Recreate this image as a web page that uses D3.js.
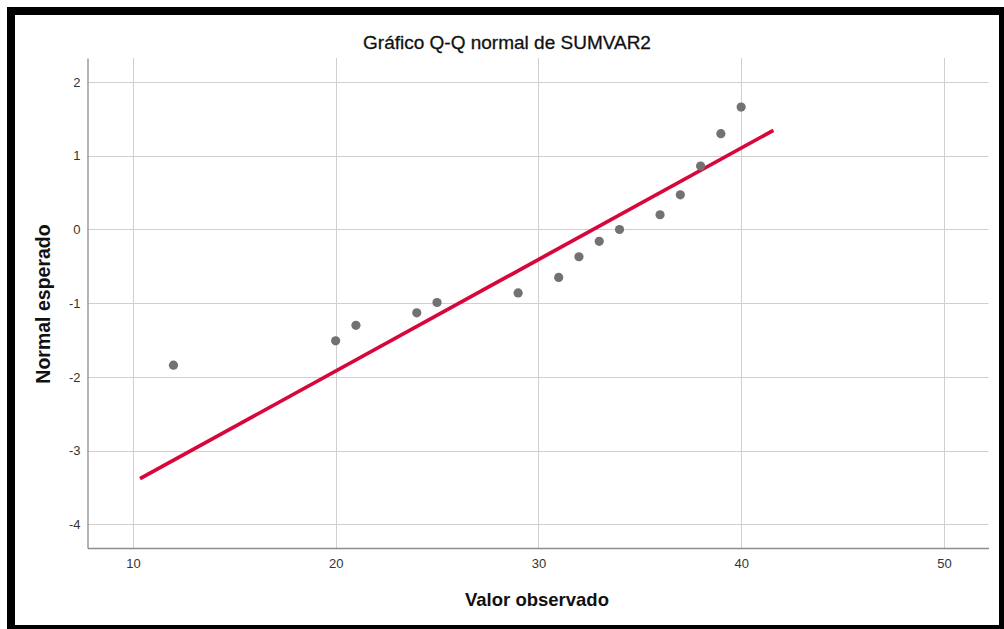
<!DOCTYPE html>
<html>
<head>
<meta charset="utf-8">
<script src="https://cdn.jsdelivr.net/npm/d3@7"></script>
<style>
  html, body { margin: 0; padding: 0; background: #fff; }
  svg { display: block; font-family: "Liberation Sans", Arial, sans-serif; }
</style>
</head>
<body>
<div id="chart"></div>
<script>
const observed = [12, 20, 21, 24, 25, 29, 31, 32, 33, 34, 36, 37, 38, 39, 40];
const expected = [-1.84, -1.51, -1.30, -1.13, -0.99, -0.86, -0.65, -0.37, -0.16, 0.00, 0.20, 0.47, 0.86, 1.30, 1.66];

// Reference line end points
const lineX = [10.35, 41.59];
const lineY = [-3.38, 1.345];

const xTicks = [10, 20, 30, 40, 50];
const yTicks = [2, 1, 0, -1, -2, -3, -4];

const W = 1004, H = 629;
const plot = { left: 87.5, right: 988.5, top: 58, bottom: 548 };
const FONT = '"Liberation Sans", Arial, sans-serif';

const svg = d3.select('#chart').append('svg')
  .attr('width', W)
  .attr('height', H);

svg.append('rect')
  .attr('x', 0).attr('y', 0)
  .attr('width', W).attr('height', H)
  .attr('fill', '#fff');

const x = d3.scaleLinear().domain([7.76, 52.2]).range([plot.left, plot.right]);
const y = d3.scaleLinear().domain([-4.32, 2.326]).range([plot.bottom, plot.top]);

// Grid lines
svg.append('g')
  .selectAll('line')
  .data(yTicks)
  .enter().append('line')
  .attr('x1', plot.left).attr('x2', plot.right)
  .attr('y1', d => Math.round(y(d)) + 0.5)
  .attr('y2', d => Math.round(y(d)) + 0.5)
  .attr('stroke', '#cfcfcf')
  .attr('stroke-width', 1);

svg.append('g')
  .selectAll('line')
  .data(xTicks)
  .enter().append('line')
  .attr('x1', d => Math.round(x(d)) + 0.5)
  .attr('x2', d => Math.round(x(d)) + 0.5)
  .attr('y1', plot.top).attr('y2', plot.bottom)
  .attr('stroke', '#cfcfcf')
  .attr('stroke-width', 1);

// Axes (no tick marks, just lines and labels)
const xAxis = svg.append('g')
  .attr('transform', `translate(0,${plot.bottom})`)
  .call(d3.axisBottom(x).tickValues(xTicks).tickSize(0).tickPadding(11)
    .tickFormat(d => String(d)));
xAxis.select('.domain').attr('stroke', '#8c8c8c').attr('stroke-width', 1.3);
xAxis.selectAll('text').attr('font-size', 13).attr('fill', '#333')
  .attr('font-family', FONT);

const yAxis = svg.append('g')
  .attr('transform', `translate(${plot.left},0)`)
  .call(d3.axisLeft(y).tickValues(yTicks).tickSize(0).tickPadding(7)
    .tickFormat(d => String(d)));
yAxis.select('.domain').attr('stroke', '#8c8c8c').attr('stroke-width', 1.3);
yAxis.selectAll('text').attr('font-size', 13).attr('fill', '#333')
  .attr('font-family', FONT);

// Reference line
svg.append('line')
  .attr('x1', x(lineX[0])).attr('y1', y(lineY[0]))
  .attr('x2', x(lineX[1])).attr('y2', y(lineY[1]))
  .attr('stroke', '#d8063b')
  .attr('stroke-width', 3.7)
  .attr('stroke-linecap', 'butt');

// Points
svg.append('g')
  .selectAll('circle')
  .data(observed.map((v, i) => ({ v, q: expected[i] })))
  .enter().append('circle')
  .attr('cx', d => x(d.v))
  .attr('cy', d => y(d.q))
  .attr('r', 4.6)
  .attr('fill', '#727272');

// Title and axis labels
svg.append('text')
  .attr('x', 507).attr('y', 49)
  .attr('text-anchor', 'middle')
  .attr('font-size', 19)
  .attr('fill', '#111')
  .style('stroke', '#111')
  .style('stroke-width', 0.3)
  .text('Gráfico Q-Q normal de SUMVAR2');

svg.append('text')
  .attr('x', 537).attr('y', 606)
  .attr('text-anchor', 'middle')
  .attr('font-size', 18.5)
  .attr('font-weight', 'bold')
  .attr('fill', '#111')
  .text('Valor observado');

svg.append('text')
  .attr('transform', `translate(50,304) rotate(-90)`)
  .attr('text-anchor', 'middle')
  .attr('font-size', 19.5)
  .attr('font-weight', 'bold')
  .attr('fill', '#111')
  .text('Normal esperado');

// Black frame
svg.append('rect')
  .attr('x', 11).attr('y', 11)
  .attr('width', 992).attr('height', 618)
  .attr('fill', 'none')
  .attr('stroke', '#000')
  .attr('stroke-width', 8);
</script>
</body>
</html>
